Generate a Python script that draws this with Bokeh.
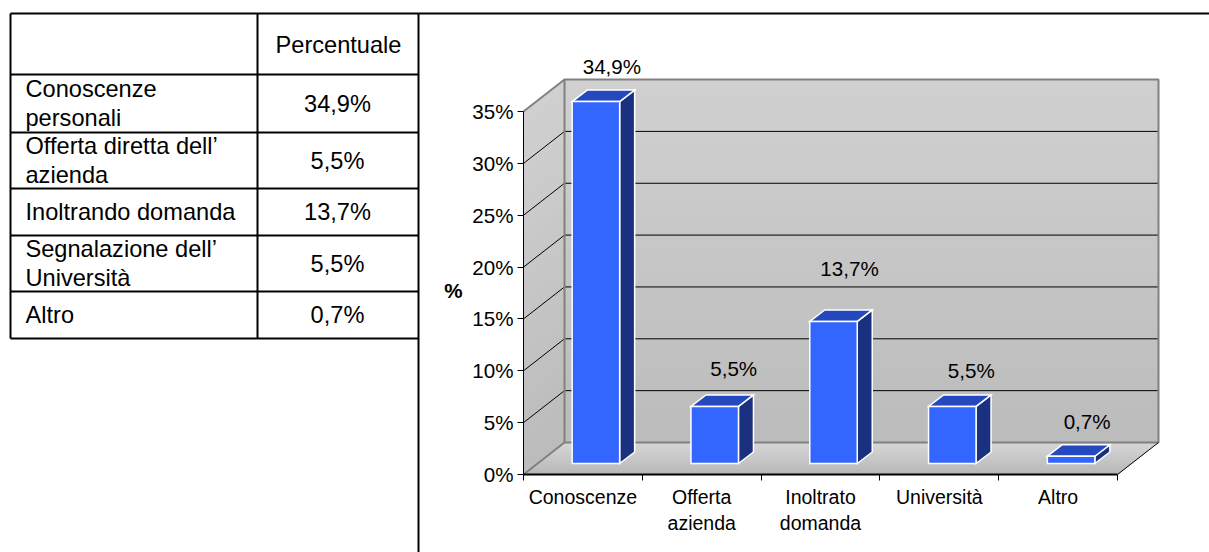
from bokeh.plotting import figure
from bokeh.models import Range1d, LinearAxis, FixedTicker, Label
from bokeh.core.properties import value as fixed
from bokeh.embed import file_html
from bokeh.resources import INLINE

# ---- data ----
categories = ["Conoscenze", "Offerta\nazienda", "Inoltrato\ndomanda", "Università", "Altro"]
values = [34.9, 5.5, 13.7, 5.5, 0.7]
value_labels = ["34,9%", "5,5%", "13,7%", "5,5%", "0,7%"]
y_ticks = [0, 5, 10, 15, 20, 25, 30, 35]
y_tick_labels = ["0%", "5%", "10%", "15%", "20%", "25%", "30%", "35%"]
table_header = "Percentuale"
table_rows = ["Conoscenze\npersonali", "Offerta diretta dell’\nazienda", "Inoltrando domanda",
              "Segnalazione dell’\nUniversità", "Altro"]
table_values = ["34,9%", "5,5%", "13,7%", "5,5%", "0,7%"]

# ---- layout (page pixels) ----
W, H = 1209, 552
LEFT, TOP = 0, 0
AX_X, AX_Y = 523.0, 474.0     # where category 0 / 0% fall
CAT_PX, PCT_PX = 118.8, 10.37
FONT = "Liberation Sans"

p = figure(width=W, height=H, output_backend="svg", toolbar_location=None, min_border=0,
           x_axis_location=None, y_axis_location=None,
           x_range=Range1d((LEFT - AX_X) / CAT_PX, (LEFT + W - AX_X) / CAT_PX),
           y_range=Range1d((AX_Y - TOP - H) / PCT_PX, (AX_Y - TOP) / PCT_PX))
p.grid.visible = False
p.outline_line_color = None
p.extra_x_ranges["page"] = Range1d(LEFT, LEFT + W)
p.extra_y_ranges["page"] = Range1d(TOP + H, TOP)
PAGE = dict(x_range_name="page", y_range_name="page")

n = len(categories)
DX, DY = 41 / CAT_PX, 32 / PCT_PX      # depth of the box
BX, BY = 13 / CAT_PX, 11 / PCT_PX      # bar plane offset
BDX, BDY = 15 / CAT_PX, 11.5 / PCT_PX  # bar depth
BW = 47.5 / CAT_PX
TOPV = y_ticks[-1]


def grey(a, b, t):
    c = round(a + (b - a) * t)
    return f"#{c:02x}{c:02x}{c:02x}"


# walls with a vertical gradient, painted from the top down
BANDS = 36
for i in range(BANDS):
    t = i / BANDS
    v = TOPV * (1 - t)
    col = grey(0xd0, 0xbb, t)
    p.quad(left=DX, right=n + DX, bottom=DY, top=DY + v, fill_color=col, line_color=None)
    p.patch([0, DX, DX, 0], [0, DY, DY + v, v], fill_color=col, line_color=None)
for i in range(16):
    t = i / 16
    f = 1 - t
    p.patch([0, n, n + DX * f, DX * f], [0, 0, DY * f, DY * f],
            fill_color=grey(0xb6, 0xd6, f), line_color=None)

# grid lines
for v in y_ticks[1:-1]:
    p.line([0, DX, n + DX], [v, v + DY, v + DY], line_color="black", line_width=1)
# wall edges
edge = dict(line_color="#808080", line_width=2)
p.line([0, DX, n + DX, n + DX, DX, 0], [TOPV, TOPV + DY, TOPV + DY, DY, DY, 0], **edge)
p.line([DX, DX], [DY, TOPV + DY], **edge)
p.line([n, n + DX], [0, DY], line_color="black", line_width=1)

# 3-D bars
white = dict(line_color="white", line_width=1.5, line_join="miter")
for i, v in enumerate(values):
    c = i + 0.5 + BX
    l, r = c - BW / 2, c + BW / 2
    b, t = BY, BY + v
    p.patch([r, r + BDX, r + BDX, r], [b, b + BDY, t + BDY, t], fill_color="#1a3180", **white)
    p.patch([l, r, r + BDX, l + BDX], [t, t, t + BDY, t + BDY], fill_color="#2448bd", **white)
    p.patch([l, r, r, l], [b, b, t, t], fill_color="#3366ff", **white)

# value labels, with the hand placement they have in the reference
p.text(x=[i + 0.5 + BX for i in range(n)], y=values, text=value_labels,
       x_offset=[16, 19, 16, 19, 16], y_offset=[-46, -49, -64, -47, -46],
       text_align="center", text_baseline="middle",
       text_font=fixed(FONT), text_font_size="20.6px", text_color="black")

# axes
yax = LinearAxis(fixed_location=0, ticker=FixedTicker(ticks=y_ticks), bounds=(0, TOPV),
                 major_label_overrides=dict(zip(y_ticks, y_tick_labels)),
                 major_label_text_font=FONT, major_label_text_font_size="20.6px",
                 major_label_standoff=4, major_label_text_color="black",
                 axis_line_color="black", axis_line_width=1,
                 major_tick_line_color="black", major_tick_in=0, major_tick_out=6,
                 minor_tick_in=0, minor_tick_out=0)
p.add_layout(yax, "left")
centers = [i + 0.5 for i in range(n)]
xax = LinearAxis(fixed_location=0, bounds=(0, n),
                 ticker=FixedTicker(ticks=centers, minor_ticks=list(range(n + 1))),
                 major_label_overrides=dict(zip(centers, categories)),
                 major_label_text_font=FONT, major_label_text_font_size="19.5px",
                 major_label_standoff=5, major_label_text_color="black",
                 axis_line_color="black", axis_line_width=2,
                 major_tick_in=0, major_tick_out=0,
                 minor_tick_line_color="black", minor_tick_line_width=1,
                 minor_tick_in=0, minor_tick_out=6)
p.add_layout(xax, "below")
p.add_layout(Label(x=(453 - AX_X) / CAT_PX, y=(AX_Y - 290) / PCT_PX, text="%",
                   text_font=FONT, text_font_size="20.6px", text_font_style="bold",
                   text_color="black", text_align="center", text_baseline="middle"))

# table (page coordinates)
rows_y = [13, 74, 132, 188, 235, 291, 338]
T_L, T_M, T_R = 10, 257, 418
p.segment(x0=[T_L] * 7, x1=[T_R] * 7, y0=rows_y, y1=rows_y, line_color="black", line_width=2, **PAGE)
p.segment(x0=[T_L, T_M], x1=[T_L, T_M], y0=[13, 13], y1=[338, 338], line_color="black", line_width=2, **PAGE)
p.segment(x0=[T_R, T_R], x1=[LEFT + W, T_R], y0=[13, 13], y1=[13, TOP + H], line_color="black", line_width=2, **PAGE)
mids = [(a + b) / 2 for a, b in zip(rows_y[1:], rows_y[2:])]
tfont = dict(text_font=fixed(FONT), text_font_size="23.6px", text_color="black",
             text_baseline="middle", text_line_height=1.15)
p.text(x=[25] * 5, y=mids, text=table_rows, text_align="left", **tfont, **PAGE)
p.text(x=[337] * 5, y=mids, text=table_values, text_align="center", **tfont, **PAGE)
p.text(x=[338], y=[44], text=[table_header], text_align="center", **tfont, **PAGE)

open("out.html", "w").write(file_html(p, INLINE))
